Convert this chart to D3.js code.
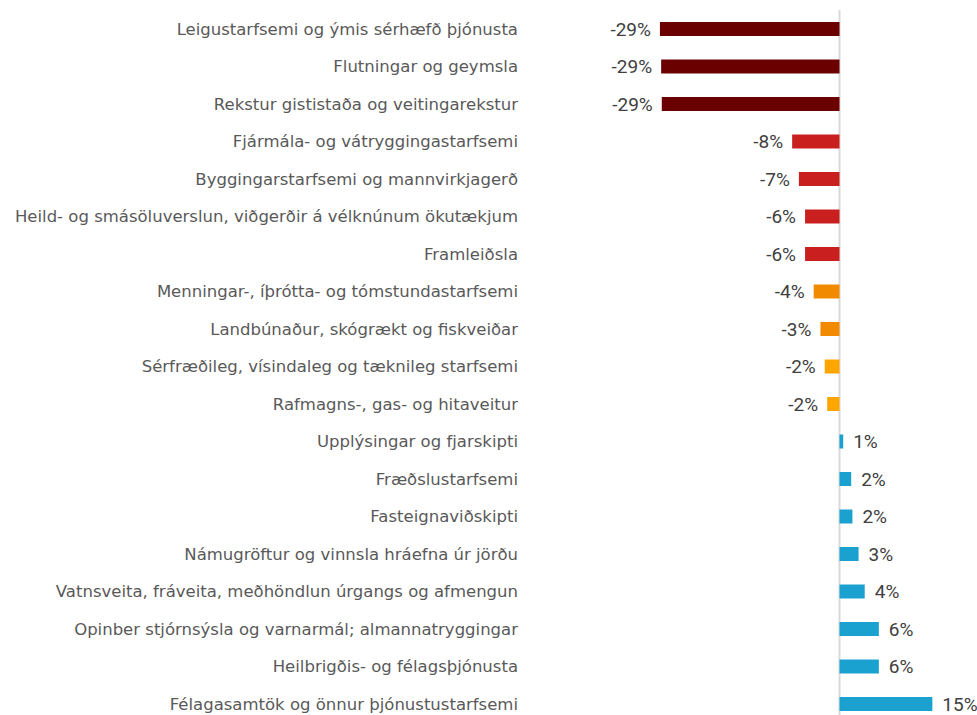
<!DOCTYPE html>
<html lang="is">

<head>
    <meta charset="utf-8" />
    <title>Breyting eftir atvinnugreinum</title>
    <script src="https://d3js.org/d3.v7.min.js"></script>
    <style>
        body {
            margin: 0;
            background: #fff;
        }

        .cat {
            font-family: "DejaVu Sans", sans-serif;
            font-size: 16.5px;
            fill: #595959;
        }

        .val {
            font-family: Roboto, sans-serif;
            font-size: 19px;
            fill: #404040;
        }
    </style>
</head>

<body>
    <script>
        const width = 977;
        const height = 715;

        // Data (percent change)
        const categories = [
            "Leigustarfsemi og ýmis sérhæfð þjónusta",
            "Flutningar og geymsla",
            "Rekstur gististaða og veitingarekstur",
            "Fjármála- og vátryggingastarfsemi",
            "Byggingarstarfsemi og mannvirkjagerð",
            "Heild- og smásöluverslun, viðgerðir á vélknúnum ökutækjum",
            "Framleiðsla",
            "Menningar-, íþrótta- og tómstundastarfsemi",
            "Landbúnaður, skógrækt og fiskveiðar",
            "Sérfræðileg, vísindaleg og tæknileg starfsemi",
            "Rafmagns-, gas- og hitaveitur",
            "Upplýsingar og fjarskipti",
            "Fræðslustarfsemi",
            "Fasteignaviðskipti",
            "Námugröftur og vinnsla hráefna úr jörðu",
            "Vatnsveita, fráveita, meðhöndlun úrgangs og afmengun",
            "Opinber stjórnsýsla og varnarmál; almannatryggingar",
            "Heilbrigðis- og félagsþjónusta",
            "Félagasamtök og önnur þjónustustarfsemi"
        ];
        const values = [-29.2, -29.0, -28.9, -7.7, -6.6, -5.6, -5.6, -4.2, -3.1, -2.4, -2.0,
            0.6, 1.9, 2.1, 3.1, 4.1, 6.4, 6.4, 15.1];
        const labels = ["-29%", "-29%", "-29%", "-8%", "-7%", "-6%", "-6%", "-4%", "-3%", "-2%", "-2%",
            "1%", "2%", "2%", "3%", "4%", "6%", "6%", "15%"];
        const colors = ["#6b0000", "#6b0000", "#6b0000", "#c91f1f", "#c91f1f", "#c91f1f", "#c91f1f",
            "#f28a00", "#f28a00", "#ffa500", "#ffa500",
            "#1aa1cf", "#1aa1cf", "#1aa1cf", "#1aa1cf", "#1aa1cf", "#1aa1cf", "#1aa1cf", "#1aa1cf"];

        const data = categories.map((c, i) => ({ cat: c, value: values[i], label: labels[i], color: colors[i] }));

        const svg = d3.select("body").append("svg")
            .attr("width", width)
            .attr("height", height);

        // scales
        const pxPerPct = 6.15;
        const zeroX = 839.5;
        const xscale = d3.scaleLinear()
            .domain([-30, 16])
            .range([zeroX - 30 * pxPerPct, zeroX + 16 * pxPerPct]);
        const yscale = d3.scaleBand()
            .domain(categories)
            .range([10.25, 10.25 + categories.length * 37.5])
            .paddingInner(0.627)
            .paddingOuter(0.3135);

        // zero line
        svg.append("line")
            .attr("x1", xscale(0)).attr("x2", xscale(0))
            .attr("y1", 10).attr("y2", height)
            .attr("stroke", "#d9d9d9")
            .attr("stroke-width", 2);

        // bars
        svg.selectAll("rect.bar")
            .data(data)
            .join("rect")
            .attr("class", "bar")
            .attr("x", d => xscale(Math.min(0, d.value)))
            .attr("width", d => Math.abs(xscale(d.value) - xscale(0)))
            .attr("y", d => yscale(d.cat))
            .attr("height", yscale.bandwidth())
            .attr("fill", d => d.color);

        // category labels
        svg.selectAll("text.cat")
            .data(data)
            .join("text")
            .attr("class", "cat")
            .attr("x", 518)
            .attr("y", d => yscale(d.cat) + yscale.bandwidth() / 2)
            .attr("dy", "0.35em")
            .attr("text-anchor", "end")
            .text(d => d.cat);

        // value labels
        svg.selectAll("text.val")
            .data(data)
            .join("text")
            .attr("class", "val")
            .attr("x", d => d.value < 0 ? xscale(d.value) - 9 : xscale(d.value) + 10)
            .attr("y", d => yscale(d.cat) + yscale.bandwidth() / 2)
            .attr("dy", "0.36em")
            .attr("text-anchor", d => d.value < 0 ? "end" : "start")
            .text(d => d.label);
    </script>
</body>

</html>
